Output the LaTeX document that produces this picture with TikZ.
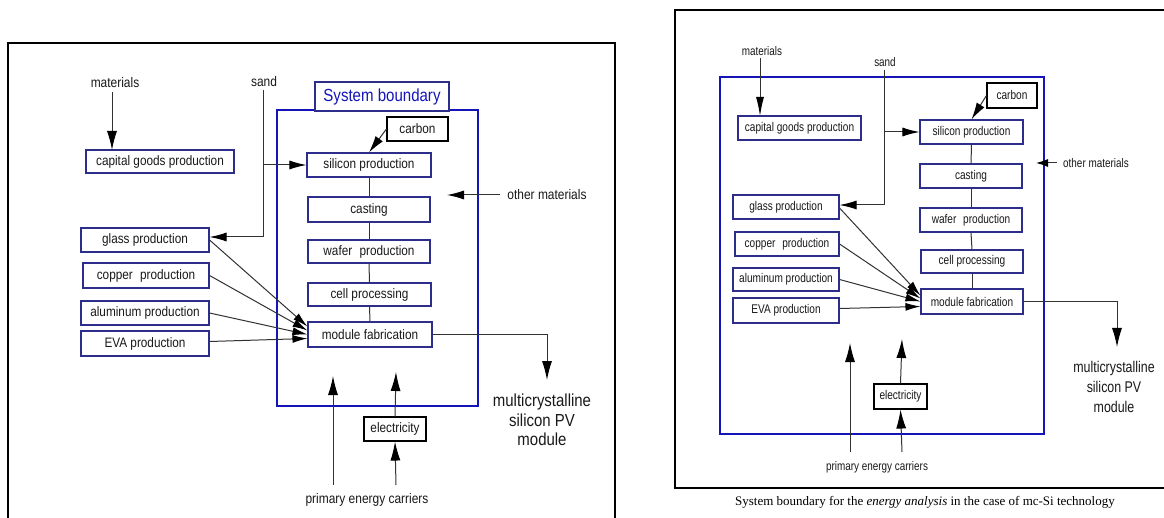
\documentclass[tikz,border=0pt]{standalone}
\usepackage{fontspec}
\setmainfont{Liberation Sans}
\newfontfamily\leftfont[FakeStretch=0.86]{Liberation Sans}
\newfontfamily\rightfont[FakeStretch=0.8]{Liberation Sans}
\newfontfamily\capfont{Liberation Serif}
\usetikzlibrary{arrows.meta}

\definecolor{boxblue}{RGB}{45,45,140}
\definecolor{sysblue}{RGB}{20,20,185}
\definecolor{textgray}{RGB}{25,25,25}
\definecolor{linegray}{RGB}{50,50,50}

\tikzset{
  frame/.style={draw=black, line width=1.8pt},
  boundary/.style={draw=sysblue, line width=1.8pt},
  lbox/.style={draw=boxblue, line width=1.1pt, fill=white, inner sep=0pt,
    text=textgray, font=\leftfont\fontsize{13.7}{16}\selectfont},
  rbox/.style={draw=boxblue, line width=1.1pt, fill=white, inner sep=0pt,
    text=textgray, font=\rightfont\fontsize{12.6}{15}\selectfont},
  lblack/.style={lbox, draw=black},
  rblack/.style={rbox, draw=black},
  ltext/.style={inner sep=0pt, text=textgray, font=\leftfont\fontsize{13.9}{16}\selectfont},
  rtext/.style={inner sep=0pt, text=textgray, font=\rightfont\fontsize{12.4}{15}\selectfont},
  link/.style={draw=linegray, line width=1pt},
  big/.style={link, -{Latex[length=19pt,width=10pt,color=black]}},
  mid/.style={link, -{Latex[length=17pt,width=9pt,color=black]}},
  small/.style={link, -{Latex[length=15pt,width=8pt,color=black]}},
}

\begin{document}
\begin{tikzpicture}[x=1pt,y=-1pt]
\useasboundingbox (0,0) rectangle (1164,518);
\fill[white] (0,0) rectangle (1164,518);

% ---------------- left diagram ----------------
\draw[frame] (8,530) -- (8,43) -- (615,43) -- (615,530);
\draw[boundary] (277,110) rectangle (478,406);
\node[draw=boxblue, line width=1.1pt, fill=white, inner sep=0pt,
      minimum width=134pt, minimum height=29pt, text=sysblue,
      font=\leftfont\fontsize{17.5}{20}\selectfont] (sysl) at (382,96.5) {System boundary};

\node[lbox, minimum width=148pt, minimum height=23pt] (capl) at (160,161.5) {capital goods production};
\node[lbox, minimum width=128pt, minimum height=24pt] (glassl) at (145,240) {glass production};
\node[lbox, minimum width=126pt, minimum height=25pt] (copperl) at (146,275.5) {copper\hspace{4pt} production};
\node[lbox, minimum width=128pt, minimum height=24pt] (alul) at (145,313) {aluminum production};
\node[lbox, minimum width=128pt, minimum height=25pt] (eval) at (145,343.5) {EVA production};

\node[lbox, minimum width=124pt, minimum height=24pt] (sill) at (369,165) {silicon production};
\node[lbox, minimum width=122pt, minimum height=25pt] (castl) at (369,209.5) {casting};
\node[lbox, minimum width=122pt, minimum height=23pt] (waferl) at (369,251.5) {wafer\hspace{4pt} production};
\node[lbox, minimum width=123pt, minimum height=23pt] (celll) at (369.5,294.5) {cell processing};
\node[lbox, minimum width=124pt, minimum height=25pt] (modl) at (370,334.5) {module fabrication};
\node[lblack, minimum width=61pt, minimum height=24pt] (carbonl) at (417.5,129) {carbon};
\node[lblack, minimum width=62pt, minimum height=24pt] (elecl) at (395,429) {electricity};

\node[ltext] (matl) at (115,83) {materials};
\node[ltext] (sandl) at (264,82) {sand};
\node[ltext] (othl) at (547,195) {other materials};
\node[ltext, align=center, font=\leftfont\fontsize{17.4}{19.5}\selectfont] (pvl) at (542,420)
  {multicrystalline\\silicon PV\\module};
\node[ltext] (pecl) at (367,500) {primary energy carriers};

\coordinate (sandtopl) at (263,90);
\coordinate (sandbotl) at (263,237);
\coordinate (othtipl) at (447,195);
\coordinate (othstartl) at (500,195);
\coordinate (outtipl) at (547,380);
\coordinate (pecal) at (333,485);
\coordinate (pectipl) at (333,376);
\coordinate (pecbl) at (396,485);
\coordinate (electipl) at (396,372);

\draw[big] (112,92) -- (112,150);
\draw[link] (sandtopl) -- (sandbotl);
\draw[mid] (sandbotl) -- (sandbotl -| glassl.east);
\draw[mid] (sandtopl |- sill.west) -- (sill.west);
\draw[mid] (carbonl.west) -- (sill.north);
\draw[link] (sill.south) -- (castl.north);
\draw[link] (castl.south) -- (waferl.north);
\draw[link] (waferl.south) -- (celll.north);
\draw[link] (celll.south) -- (modl.north);
\draw[mid] (othstartl) -- (othtipl);
\draw[big] (modl.east) -| (outtipl);
\draw[small] (glassl.east) -- ([yshift=8pt]modl.west);
\draw[small] (copperl.east) -- ([yshift=4pt]modl.west);
\draw[small] (alul.east) -- ([yshift=0pt]modl.west);
\draw[small] ([yshift=2pt]eval.east) -- ([yshift=-4pt]modl.west);
\draw[big] (pecal) -- (pectipl);
\draw[big] (pecbl) -- (elecl.south);
\draw[big] (elecl.north) -- (electipl);

% ---------------- right diagram ----------------
\draw[frame] (1175,10) -- (675,10) -- (675,488) -- (1175,488);
\draw[boundary] (720,77) rectangle (1044,434);

\node[rbox, minimum width=123pt, minimum height=24pt] (capr) at (799.5,128) {capital goods production};
\node[rbox, minimum width=106pt, minimum height=24pt] (glassr) at (786,207) {glass production};
\node[rbox, minimum width=104pt, minimum height=24pt] (copperr) at (787,244) {copper\hspace{4pt} production};
\node[rbox, minimum width=106pt, minimum height=23pt] (alur) at (786,279.5) {aluminum production};
\node[rbox, minimum width=106pt, minimum height=25pt] (evar) at (786,310.5) {EVA production};

\node[rbox, minimum width=103pt, minimum height=24pt] (silr) at (971.5,132) {silicon production};
\node[rbox, minimum width=102pt, minimum height=24pt] (castr) at (971,176) {casting};
\node[rbox, minimum width=102pt, minimum height=24pt] (waferr) at (971,220) {wafer\hspace{4pt} production};
\node[rbox, minimum width=102pt, minimum height=23pt] (cellr) at (972,261.5) {cell processing};
\node[rbox, minimum width=102pt, minimum height=25pt] (modr) at (972,301.5) {module fabrication};
\node[rblack, minimum width=50pt, minimum height=25pt] (carbonr) at (1012,95.5) {carbon};
\node[rblack, minimum width=53pt, minimum height=25pt] (elecr) at (900.5,396.5) {electricity};

\node[rtext] (matr) at (762,51) {materials};
\node[rtext] (sandr) at (885,62) {sand};
\node[rtext] (othr) at (1096,163) {other materials};
\node[rtext, align=center, font=\rightfont\fontsize{15.5}{20}\selectfont] (pvr) at (1114,387)
  {multicrystalline\\silicon PV\\module};
\node[rtext] (pecr) at (877,467) {primary energy carriers};

\coordinate (sandtopr) at (884,70);
\coordinate (sandbotr) at (884,205);
\coordinate (othtipr) at (1036,163);
\coordinate (othstartr) at (1057,163);
\coordinate (outtipr) at (1117,347);
\coordinate (pecar) at (850,452);
\coordinate (pectipr) at (850,343);
\coordinate (pecbr) at (902,452);
\coordinate (electipr) at (902,339);

\draw[link, -{Latex[length=19pt,width=8pt,color=black]}] (760,58) -- (760,116);
\draw[link] (sandtopr) -- (sandbotr);
\draw[mid] (sandbotr) -- (sandbotr -| glassr.east);
\draw[mid] (sandtopr |- silr.west) -- (silr.west);
\draw[mid] (carbonr.west) -- (silr.north);
\draw[link] (silr.south) -- (castr.north);
\draw[link] (castr.south) -- (waferr.north);
\draw[link] (waferr.south) -- (cellr.north);
\draw[link] (cellr.south) -- (modr.north);
\draw[link, -{Latex[length=12pt,width=8pt,color=black]}] (othstartr) -- (othtipr);
\draw[big] (modr.east) -| (outtipr);
\draw[small] ([yshift=-1pt]glassr.east) -- ([yshift=6pt]modr.west);
\draw[small] (copperr.east) -- ([yshift=3pt]modr.west);
\draw[small] (alur.east) -- ([yshift=0pt]modr.west);
\draw[small] ([yshift=2pt]evar.east) -- ([yshift=-5pt]modr.west);
\draw[big] (pecar) -- (pectipr);
\draw[big] (pecbr) -- (elecr.south);
\draw[big] (elecr.north) -- (electipr);

\node[inner sep=0pt, text=black, font=\capfont\fontsize{13}{16}\selectfont] (caption) at (925,502)
  {System boundary for the \textit{energy analysis} in the case of mc-Si technology};
\end{tikzpicture}
\end{document}
